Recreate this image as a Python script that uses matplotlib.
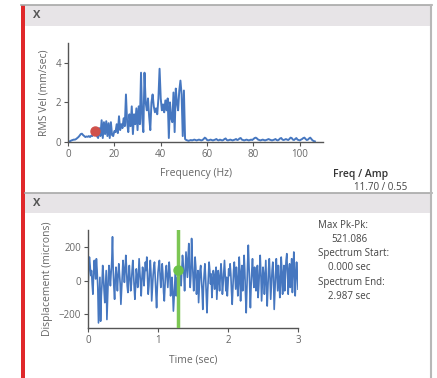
import matplotlib
matplotlib.use("Agg")
import matplotlib.pyplot as plt
import numpy as np

plt.rcParams["font.family"] = ["Open Sans", "DejaVu Sans"]

# spectrum, 0.5 Hz bins from 0 Hz
freq_step = 0.5
rms_vel = [
    0.0, 0.02, 0.05, 0.08, 0.1, 0.12, 0.12, 0.15, 0.2, 0.25,
    0.32, 0.4, 0.42, 0.35, 0.3, 0.25, 0.28, 0.26, 0.3, 0.25,
    0.32, 0.3, 0.45, 0.55, 0.5, 0.3, 0.2, 0.7, 0.3, 1.1,
    0.2, 1.0, 0.4, 1.05, 0.3, 0.95, 0.2, 1.0, 0.35, 0.3,
    0.55, 0.5, 0.9, 0.45, 1.3, 0.6, 0.9, 0.7, 1.2, 0.8,
    2.4, 1.0, 0.5, 1.4, 0.8, 1.8, 0.4, 1.4, 0.9, 1.7,
    0.6, 1.8, 0.9, 3.5, 1.2, 0.5, 3.5, 2.0, 1.6, 2.2,
    1.3, 0.6, 2.0, 2.4, 1.8, 1.5, 1.7, 1.4, 2.2, 3.7,
    2.2, 1.6, 1.9, 1.5, 2.1, 1.6, 2.2, 0.2, 2.0, 1.2,
    1.0, 2.5, 0.5, 2.7, 2.0, 1.6, 2.6, 3.1, 2.4, 0.3,
    2.6, 0.15, 0.1, 0.08, 0.06, 0.08, 0.1, 0.08, 0.1, 0.12,
    0.1, 0.08, 0.1, 0.12, 0.1, 0.08, 0.1, 0.15, 0.22, 0.18,
    0.1, 0.08, 0.1, 0.12, 0.1, 0.08, 0.1, 0.12, 0.15, 0.1,
    0.08, 0.12, 0.1, 0.08, 0.1, 0.15, 0.18, 0.1, 0.08, 0.1,
    0.12, 0.1, 0.08, 0.1, 0.12, 0.15, 0.1, 0.12, 0.18, 0.2,
    0.12, 0.1, 0.08, 0.1, 0.12, 0.1, 0.08, 0.1, 0.12, 0.1,
    0.15, 0.2, 0.22, 0.18, 0.12, 0.1, 0.08, 0.1, 0.12, 0.1,
    0.08, 0.1, 0.12, 0.15, 0.12, 0.1, 0.08, 0.1, 0.12, 0.15,
    0.1, 0.08, 0.12, 0.18, 0.2, 0.12, 0.1, 0.12, 0.15, 0.12,
    0.1, 0.15, 0.22, 0.2, 0.12, 0.1, 0.15, 0.2, 0.12, 0.1,
    0.08, 0.12, 0.15, 0.2, 0.22, 0.15, 0.1, 0.12, 0.18, 0.22,
    0.15, 0.08, 0.05, 0.03,
]
cursor_freq = 11.70
cursor_amp = 0.55

# time waveform, 0.01 s samples
time_step = 0.01
displacement = [
    -50, 60, 140, 90, 30, 60, -20, -80, 40, 120, 60, 10, 130, 60, -40, -250, -120, 20, -240, -90,
    -20, 90, 30, -60, -130, -40, 60, -230, -100, 20, 90, 40, -30, 50, 120, 260, 60, -40, -110, 10,
    80, 20, -60, 30, 100, 40, -20, -140, -50, 40, 120, 70, -10, 60, 150, 80, -30, -70, 30, 90,
    20, -60, -20, 60, 120, 50, -40, -110, -30, 70, 30, -40, 20, 130, 60, -20, -90, 10, 80, 40,
    -30, 40, 110, 60, 140, 20, -80, -30, 60, 120, 40, -120, -40, 30, 80, 110, 20, -60, -160, -40,
    50, 90, 120, 30, -40, 20, 100, 40, -70, -120, -30, 60, 90, 20, -40, 30, 110, 50, -90, -40,
    20, -60, -180, -100, -20, 40, -90, -30, 20, -140, -40, 60, 20, -30, 60, 150, 100, 40, -60, 60,
    170, 90, 20, 140, 220, 60, -40, 30, 250, 130, 40, -60, 20, 140, 80, -80, -20, 60, -130, -40,
    60, 90, 20, -60, -170, -40, 40, 100, 20, -80, -190, -60, 30, 110, 60, -20, 40, -100, -30, 60,
    20, -50, 40, 80, -110, -20, 60, 10, -60, 30, 100, 40, -80, -20, 50, 120, 30, -60, 20, -90,
    -20, 70, 30, 100, 40, -60, -140, -40, 60, 110, 30, -50, 80, 20, -90, -20, 140, 50, -120, 40,
    90, -60, 20, 150, 60, -80, -190, -40, 100, 210, 80, -40, -160, -30, 60, 130, 30, -40, 80, 20,
    -60, 40, 90, -100, -30, 60, 150, 40, -120, -20, 80, 40, -80, 20, 120, -30, -150, -40, 70, 130,
    20, -110, -20, 60, 110, 20, -170, -60, 40, 130, 30, -60, 90, 20, -100, -30, 140, 60, -80, 20,
    90, -60, 40, 120, 160, 30, -80, 60, 100, -40, 20, 130, -70, 30, 170, 80, -90, 20, 110, 40,
    -50,
]
cursor_time = 1.29
cursor_disp = 63

side_info = [("Max Pk-Pk:", "521.086"), ("Spectrum Start:", "0.000 sec"), ("Spectrum End:", "2.987 sec")]

W, H = 437, 378
BLUE = "#4677c0"
GRAY_TXT = "#666666"
AX_COL = "#555555"

fig = plt.figure(figsize=(W / 100, H / 100), dpi=100)
fig.patch.set_facecolor("white")

# window chrome drawn in pixel coordinates
bg = fig.add_axes([0, 0, 1, 1], zorder=0)
bg.set_xlim(0, W)
bg.set_ylim(H, 0)
bg.axis("off")
bg.add_patch(plt.Rectangle((25, 5), 406, 21, color="#e7e4e7", lw=0))
bg.add_patch(plt.Rectangle((25, 193), 406, 20, color="#e7e4e7", lw=0))
bg.plot([21, 432], [5, 5], color="#a8a8a8", lw=1.2)
bg.plot([25, 432], [193, 193], color="#a8a8a8", lw=1.2)
bg.plot([431, 431], [5, H], color="#b8b8b8", lw=1.5)
bg.add_patch(plt.Rectangle((21, 5), 4, H - 5, color="#e0282a", lw=0))
bg.text(33, 16, "X", fontsize=8, color="#555555", fontweight="bold", va="center")
bg.text(33, 204, "X", fontsize=8, color="#555555", fontweight="bold", va="center")
bg.text(333, 174, "Freq / Amp", fontsize=7.5, color="#333333", va="center", fontweight="semibold")
bg.text(407, 187, f"{cursor_freq:.2f} / {cursor_amp:.2f}", fontsize=7, color="#444444",
        va="center", ha="right")
for i, (lab, val) in enumerate(side_info):
    y0 = 225 + i * 28.5
    bg.text(318, y0, lab, fontsize=7, color="#444444", va="center")
    bg.text(349, y0 + 14.5, val, fontsize=7, color="#444444", va="center", ha="center")


def style(ax):
    for s in ("top", "right"):
        ax.spines[s].set_visible(False)
    for s in ("left", "bottom"):
        ax.spines[s].set_color(AX_COL)
        ax.spines[s].set_linewidth(1.0)
    ax.tick_params(colors=AX_COL, labelcolor=GRAY_TXT, labelsize=7, length=3, width=0.8, pad=2)
    ax.patch.set_alpha(0)


# spectrum panel
ax1 = fig.add_axes([68 / W, 1 - 142 / H, 255 / W, 99 / H], zorder=1)
freq = np.arange(len(rms_vel)) * freq_step
ax1.plot(freq, rms_vel, color=BLUE, lw=1.4)
ax1.plot([cursor_freq], [cursor_amp], "o", color="#d0504a", ms=6.5, zorder=3)
ax1.set_xlim(0, 110)
ax1.set_ylim(0, 5)
ax1.set_xticks([0, 20, 40, 60, 80, 100])
ax1.set_yticks([0, 2, 4])
ax1.set_xlabel("Frequency (Hz)", fontsize=7.5, color=GRAY_TXT, labelpad=6)
ax1.set_ylabel("RMS Vel (mm/sec)", fontsize=7.5, color=GRAY_TXT, labelpad=4)
style(ax1)

# waveform panel
ax2 = fig.add_axes([88 / W, 1 - 328 / H, 210 / W, 98 / H], zorder=1)
t = np.arange(len(displacement)) * time_step
ax2.plot(t, displacement, color=BLUE, lw=1.2)
ax2.axvline(cursor_time, color="#7cc653", lw=2.5, zorder=3)
ax2.plot([cursor_time], [cursor_disp], "o", color="#6cc24a", ms=6.5, zorder=4)
ax2.set_xlim(0, 3)
ax2.set_ylim(-280, 300)
ax2.set_xticks([0, 1, 2, 3])
ax2.set_yticks([-200, 0, 200])
ax2.set_xlabel("Time (sec)", fontsize=7.5, color=GRAY_TXT, labelpad=6)
ax2.set_ylabel("Displacement (microns)", fontsize=7.5, color=GRAY_TXT, labelpad=4)
style(ax2)

fig.savefig("out.png", dpi=100, facecolor="white")
